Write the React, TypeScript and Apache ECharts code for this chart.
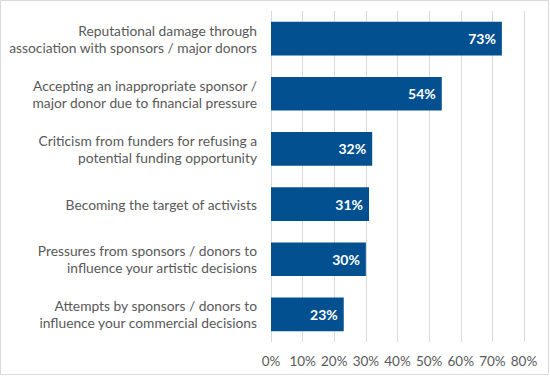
import React, { useEffect, useRef } from "react";
import * as echarts from "echarts";

const categories: string[] = [
  "Reputational damage through\nassociation with sponsors / major donors",
  "Accepting an inappropriate sponsor /\nmajor donor due to financial pressure",
  "Criticism from funders for refusing a\npotential funding opportunity",
  "Becoming the target of activists",
  "Pressures from sponsors / donors to\ninfluence your artistic decisions",
  "Attempts by sponsors / donors to\ninfluence your commercial decisions",
];
const values: number[] = [73, 54, 32, 31, 30, 23];
const tickLabels: string[] = ["0%", "10%", "20%", "30%", "40%", "50%", "60%", "70%", "80%"];

export default function App() {
  const ref = useRef<HTMLDivElement>(null);
  useEffect(() => {
    if (!ref.current) return;
    const chart = echarts.init(ref.current, undefined, { renderer: "svg" });
    chart.setOption({
      animation: false,
      backgroundColor: "#ffffff",
      graphic: [
        {
          type: "rect",
          shape: { x: 0.5, y: 0.5, width: 548, height: 374 },
          style: { fill: "none", stroke: "#d9d9d9", lineWidth: 1 },
          silent: true,
        },
      ],
      grid: { left: 271, right: 26, top: 11, bottom: 34, containLabel: false },
      xAxis: {
        type: "value",
        min: 0,
        max: 80,
        interval: 10,
        axisLine: { show: false },
        axisTick: { show: false },
        splitLine: { show: true, lineStyle: { color: "#d9d9d9", width: 1 } },
        axisLabel: {
          color: "#595959",
          fontFamily: "Lato",
          fontSize: 13.5,
          margin: 12,
          formatter: (v: number) => tickLabels[Math.round(v / 10)] ?? `${v}%`,
        },
      },
      yAxis: {
        type: "category",
        inverse: true,
        data: categories,
        axisLine: { show: false },
        axisTick: { show: false },
        axisLabel: {
          color: "#595959",
          fontFamily: "Lato",
          fontSize: 13.8,
          lineHeight: 17,
          align: "right",
          margin: 14,
        },
      },
      series: [
        {
          type: "bar",
          data: values,
          barCategoryGap: "39%",
          itemStyle: { color: "#02508f" },
          label: {
            show: true,
            position: "insideRight",
            distance: 6,
            color: "#ffffff",
            fontFamily: "Lato",
            fontWeight: "bold",
            fontSize: 14,
            formatter: (p: any) => `${p.value}%`,
          },
        },
      ],
    });
    return () => chart.dispose();
  }, []);
  return <div ref={ref} style={{ width: 550, height: 376, position: "absolute", left: 0, top: 0 }} />;
}
